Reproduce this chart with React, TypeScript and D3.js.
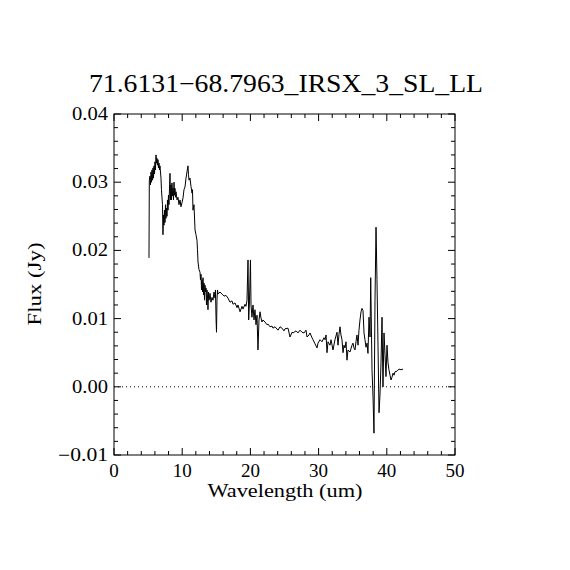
import * as d3 from "d3";

// Spectrum: wavelength (um) and flux (Jy)
const WAVE = [
  5.13, 5.18, 5.28, 5.35, 5.43, 5.5, 5.57, 5.65, 5.72, 5.79, 5.87, 5.94, 6.01, 6.08, 6.16, 6.23, 6.3, 6.38,
  6.45, 6.52, 6.6, 6.67, 6.74, 6.89, 6.96, 7.04, 7.11, 7.18, 7.26, 7.33, 7.4, 7.48, 7.55, 7.62, 7.7, 7.77,
  7.84, 7.92, 7.99, 8.06, 8.21, 8.28, 8.36, 8.43, 8.5, 8.58, 8.65, 8.72, 8.8, 8.87, 8.94, 9.02, 9.09, 9.24,
  9.38, 9.53, 9.68, 9.82, 9.97, 10.12, 10.26, 10.41, 10.56, 10.7, 10.85, 10.92, 11.0, 11.14, 11.29, 11.44,
  11.51, 11.58, 11.73, 11.88, 12.02, 12.17, 12.24, 12.32, 12.46, 12.61, 12.68, 12.76, 12.83, 12.9, 12.98,
  13.05, 13.12, 13.2, 13.27, 13.34, 13.42, 13.49, 13.56, 13.64, 13.71, 13.78, 13.86, 13.93, 14.08, 14.22,
  14.37, 14.52, 14.66, 14.81, 14.88, 14.96, 15.03, 15.1, 15.18, 15.25,
  15.54, 15.84, 16.13, 16.42, 16.72, 17.01, 17.3, 17.45, 17.74, 18.04, 18.18, 18.48, 18.77, 18.91, 19.21,
  19.35, 19.5, 19.65, 19.75, 19.87, 20.01, 20.09, 20.23, 20.38, 20.53, 20.67, 20.82, 20.97, 21.11, 21.26,
  21.41, 21.55, 21.7, 21.85, 22.14, 22.43, 22.58, 22.87, 23.17, 23.31, 23.61, 24.05, 24.34, 24.63, 24.93,
  25.07, 25.51, 25.81, 26.1, 26.25, 26.69, 26.98, 27.27, 27.57, 27.86, 28.15, 28.3, 28.59, 28.74, 29.03,
  29.18, 29.47, 29.77, 29.91, 30.21, 30.5, 30.79, 30.94, 31.09, 31.23, 31.38, 31.67, 31.82, 32.11, 32.4,
  32.7, 32.84, 32.99, 33.14, 33.28, 33.43, 33.58, 33.72, 33.87, 34.02, 34.16, 34.31, 34.6, 34.9, 35.04,
  35.19, 35.34, 35.48, 35.63, 35.78, 35.92, 36.07, 36.22, 36.36, 36.51, 36.66, 36.8, 36.95, 37.1, 37.24,
  37.39, 37.54, 37.64, 37.83, 37.98, 38.12, 38.27, 38.42, 38.56, 38.71, 38.86, 39.0, 39.15, 39.3, 39.44,
  39.59, 39.74, 39.88, 40.03, 40.18, 40.32, 40.47, 40.62, 40.76, 40.91, 41.06, 41.2, 41.5, 41.79, 42.08,
  42.38,
];

const FLUX = [
  0.0189, 0.0303, 0.0309, 0.0296, 0.0315, 0.03, 0.0318, 0.0303, 0.0321, 0.0306, 0.0324, 0.0312, 0.033,
  0.0318, 0.034, 0.0328, 0.0335, 0.0325, 0.0333, 0.0321, 0.0328, 0.0318, 0.0324, 0.0306, 0.0289, 0.0277,
  0.0267, 0.0223, 0.0252, 0.0237, 0.0259, 0.0241, 0.0267, 0.0247, 0.0262, 0.025, 0.0274, 0.0259, 0.0281,
  0.0267, 0.0313, 0.0274, 0.0296, 0.0274, 0.0299, 0.028, 0.0291, 0.0274, 0.03, 0.0281, 0.0291, 0.0278,
  0.0286, 0.0274, 0.0278, 0.0267, 0.0274, 0.0264, 0.027, 0.0277, 0.0289, 0.0293, 0.0306, 0.0315, 0.0324,
  0.0311, 0.0303, 0.0306, 0.0294, 0.0284, 0.0289, 0.0259, 0.0267, 0.023, 0.0223, 0.0215, 0.0201, 0.0183,
  0.0172, 0.0168, 0.0157, 0.0165, 0.0142, 0.0157, 0.0139, 0.016, 0.0135, 0.0152, 0.0127, 0.0149, 0.0139,
  0.0145, 0.012, 0.0142, 0.013, 0.0113, 0.0139, 0.0127, 0.0137, 0.0124, 0.0131, 0.0127, 0.0139, 0.013,
  0.0142, 0.0101, 0.008, 0.0127, 0.0142, 0.0136,
  0.0139, 0.0136, 0.0133, 0.0134, 0.013, 0.0124, 0.0126, 0.0121, 0.0123, 0.0116, 0.012, 0.011, 0.0118,
  0.0114, 0.0121, 0.0118, 0.0127, 0.0186, 0.0098, 0.0127, 0.0186, 0.012, 0.0102, 0.012, 0.0098, 0.0113,
  0.0091, 0.0105, 0.0054, 0.0098, 0.011, 0.0101, 0.0095, 0.0098, 0.0095, 0.0091, 0.0092, 0.0088, 0.0089,
  0.0086, 0.0088, 0.0083, 0.0088, 0.0086, 0.0082, 0.0085, 0.0086, 0.0073, 0.008, 0.0079, 0.0082, 0.0079,
  0.0083, 0.008, 0.0079, 0.0083, 0.0073, 0.0076, 0.0079, 0.0072, 0.0069, 0.0063, 0.0057, 0.0064, 0.0069,
  0.0066, 0.0072, 0.0069, 0.0076, 0.005, 0.0066, 0.0061, 0.0069, 0.0054, 0.0069, 0.008, 0.0061, 0.0077,
  0.0088, 0.0076, 0.0069, 0.005, 0.0061, 0.0057, 0.0066, 0.0039, 0.0054, 0.0051, 0.0061, 0.0064, 0.0057,
  0.0054, 0.0066, 0.0076, 0.0061, 0.0083, 0.0098, 0.011, 0.0115, 0.0112, 0.0079, 0.0069, 0.0058, 0.0064,
  0.0049, 0.0102, 0.0073, 0.016, 0.0025, -0.0015, -0.0068, 0.0127, 0.0234, 0.0157, 0.0061, -0.0038,
  -0.0012, 0.0035, 0.0102, 0.0, 0.0079, 0.0047, 0.0015, 0.0061, 0.0035, 0.0025, 0.0017, 0.001, 0.0014,
  0.002, 0.0017, 0.0022, 0.0023, 0.0026, 0.0025, 0.0026,
];

const X_TICKS = [0, 10, 20, 30, 40, 50];
const Y_TICKS = [-0.01, 0.0, 0.01, 0.02, 0.03, 0.04];
const Y_LABELS = ["\u22120.01", "0.00", "0.01", "0.02", "0.03", "0.04"];
const TITLE = "71.6131\u221268.7963_IRSX_3_SL_LL";
const X_TITLE = "Wavelength (um)";
const Y_TITLE = "Flux (Jy)";

const W = 570;
const H = 570;
const FONT = "'Liberation Serif', 'DejaVu Serif', serif";

export default function App() {
  const left = 114, right = 455, top = 114, bottom = 455;
  const x = d3.scaleLinear().domain([0, 50]).range([left, right]);
  const y = d3.scaleLinear().domain([-0.01, 0.04]).range([bottom, top]);

  const pts = WAVE.map((w, i) => [w, FLUX[i]] as [number, number]);
  const line = d3.line<[number, number]>().x((d) => x(d[0])).y((d) => y(d[1]));

  const xMinor = d3.range(0, 50.001, 2);
  const yMinor = d3.range(-0.01, 0.04001, 0.002);
  const major = 7;
  const minor = 4;

  return (
    <div style={{ position: "absolute", left: 0, top: 0, background: "#fff" }}>
      <svg width={W} height={H} style={{ display: "block" }}>
        <rect width={W} height={H} fill="#fff" />
        <text x={286} y={92} fontFamily={FONT} fontSize={25} textAnchor="middle"
          textLength={394} lengthAdjust="spacingAndGlyphs">{TITLE}</text>

        {/* zero line */}
        <line x1={left} x2={right} y1={y(0)} y2={y(0)} stroke="#000" strokeWidth={1}
          strokeDasharray="1 3" />

        {/* spectrum */}
        <path d={line(pts) ?? ""} fill="none" stroke="#000" strokeWidth={1} strokeLinejoin="miter" />

        {/* frame */}
        <rect x={left} y={top} width={right - left} height={bottom - top} fill="none" stroke="#000" strokeWidth={1} />

        {/* ticks on all four sides */}
        {xMinor.map((v) => {
          const len = v % 10 === 0 ? major : minor;
          return (
            <g key={`xt${v}`}>
              <line x1={x(v)} x2={x(v)} y1={bottom} y2={bottom - len} stroke="#000" />
              <line x1={x(v)} x2={x(v)} y1={top} y2={top + len} stroke="#000" />
            </g>
          );
        })}
        {yMinor.map((v, i) => {
          const len = i % 5 === 0 ? major : minor;
          return (
            <g key={`yt${i}`}>
              <line x1={left} x2={left + len} y1={y(v)} y2={y(v)} stroke="#000" />
              <line x1={right} x2={right - len} y1={y(v)} y2={y(v)} stroke="#000" />
            </g>
          );
        })}

        {X_TICKS.map((v) => (
          <text key={`xl${v}`} x={x(v)} y={477} fontFamily={FONT} fontSize={18} textAnchor="middle"
            textLength={String(v).length * 9.5} lengthAdjust="spacingAndGlyphs">{v}</text>
        ))}
        {Y_TICKS.map((v, i) => (
          <text key={`yl${i}`} x={left - 6} y={y(v) + 6} fontFamily={FONT} fontSize={18} textAnchor="end"
            textLength={Y_LABELS[i].length === 5 ? 50 : 36} lengthAdjust="spacingAndGlyphs">{Y_LABELS[i]}</text>
        ))}

        <text x={285} y={497} fontFamily={FONT} fontSize={18} textAnchor="middle"
          textLength={155} lengthAdjust="spacingAndGlyphs">{X_TITLE}</text>
        <text transform="translate(41,284) rotate(-90)" fontFamily={FONT} fontSize={18} textAnchor="middle"
          textLength={83} lengthAdjust="spacingAndGlyphs">{Y_TITLE}</text>
      </svg>
    </div>
  );
}
